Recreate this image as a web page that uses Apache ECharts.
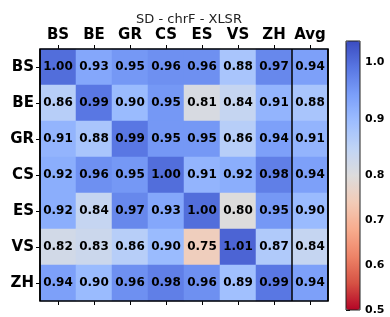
<!DOCTYPE html>
<html>
<head>
<meta charset="utf-8">
<script src="https://cdn.jsdelivr.net/npm/echarts@6/dist/echarts.min.js"></script>
<style>
  html, body { margin: 0; padding: 0; background: #fff; }
  #main { width: 390px; height: 317px; }
</style>
</head>
<body>
<div id="main"></div>
<script>
// 列 / 行
const cols = ['BS', 'BE', 'GR', 'CS', 'ES', 'VS', 'ZH', 'Avg'];
const rows = ['BS', 'BE', 'GR', 'CS', 'ES', 'VS', 'ZH'];

// 每行的分数
const rowBS = [1.00, 0.93, 0.95, 0.96, 0.96, 0.88, 0.97, 0.94];
const rowBE = [0.86, 0.99, 0.90, 0.95, 0.81, 0.84, 0.91, 0.88];
const rowGR = [0.91, 0.88, 0.99, 0.95, 0.95, 0.86, 0.94, 0.91];
const rowCS = [0.92, 0.96, 0.95, 1.00, 0.91, 0.92, 0.98, 0.94];
const rowES = [0.92, 0.84, 0.97, 0.93, 1.00, 0.80, 0.95, 0.90];
const rowVS = [0.82, 0.83, 0.86, 0.90, 0.75, 1.01, 0.87, 0.84];
const rowZH = [0.94, 0.90, 0.96, 0.98, 0.96, 0.89, 0.99, 0.94];

// colorbar: 两段线性 (中心 0.8)
const cbMin = 0.5;
const cbCenter = 0.8;
const cbMax = 1.037;
const cbTicks = [0.5, 0.6, 0.7, 0.8, 0.9, 1.0];

// coolwarm 反转 (低=红, 高=蓝)
const coolwarmR = ['#b40426', '#d65244', '#ee8468', '#f7ac8e', '#f2cbb7', '#dddcdc',
                   '#c0d4f5', '#9ebeff', '#7b9ff9', '#5977e3', '#3b4cc0'];

// 值 -> 0..1
const norm = (v) => v < cbCenter
    ? 0.5 * (v - cbMin) / (cbCenter - cbMin)
    : 0.5 + 0.5 * (v - cbCenter) / (cbMax - cbCenter);

const allRows = [rowBS, rowBE, rowGR, rowCS, rowES, rowVS, rowZH];
const heatData = [];
allRows.forEach((r, y) => {
    r.forEach((v, x) => heatData.push([x, y, v, norm(v)]));
});

const font = 'DejaVu Sans';
const cbTickPos = cbTicks.map(norm);

const option = {
    animation: false,
    textStyle: { fontFamily: font },
    title: {
        text: 'SD - chrF - XLSR',
        left: 184, top: 8, textAlign: 'center',
        textStyle: { fontFamily: font, fontSize: 13, fontWeight: 'normal', color: '#222' }
    },
    grid: [
        { left: 40, top: 49, width: 288, height: 252, show: true, borderColor: '#000', borderWidth: 1.5, backgroundColor: 'transparent', z: 10 },
        { left: 346, top: 41, width: 14, height: 269, show: true, borderColor: '#222', borderWidth: 1, backgroundColor: 'transparent', z: 10 }
    ],
    xAxis: [
        {
            type: 'category', data: cols, position: 'top', gridIndex: 0,
            axisLine: { show: false },
            axisTick: { show: true, alignWithLabel: true, length: 4, lineStyle: { color: '#000' } },
            axisLabel: { interval: 0, fontFamily: font, fontSize: 15, fontWeight: 'bold', color: '#000', margin: 6 },
            splitLine: { show: false }
        },
        {
            type: 'category', data: cols, position: 'bottom', gridIndex: 0,
            axisLine: { show: false },
            axisTick: { show: true, alignWithLabel: true, length: 4, lineStyle: { color: '#000' } },
            axisLabel: { show: false }
        },
        {
            // 竖线: ZH 与 Avg 之间
            type: 'value', gridIndex: 0, min: 0, max: cols.length, interval: cols.length - 1,
            axisLine: { show: false }, axisTick: { show: false }, axisLabel: { show: false },
            splitLine: { show: true, lineStyle: { color: '#000', width: 1.5 } },
            z: 10
        },
        {
            type: 'value', gridIndex: 1, show: false
        }
    ],
    yAxis: [
        {
            type: 'category', data: rows, inverse: true, gridIndex: 0,
            axisLine: { show: false },
            axisTick: { show: true, alignWithLabel: true, length: 4, lineStyle: { color: '#000' } },
            axisLabel: { interval: 0, fontFamily: font, fontSize: 15, fontWeight: 'bold', color: '#000', margin: 6 }
        },
        {
            type: 'value', gridIndex: 1, position: 'right', min: 0, max: 1,
            axisLine: { show: false },
            splitLine: { show: false },
            axisTick: { show: true, length: 4, customValues: cbTickPos, lineStyle: { color: '#000' } },
            axisLabel: {
                fontFamily: font, fontSize: 11, fontWeight: 'bold', color: '#000', margin: 5,
                customValues: cbTickPos,
                formatter: (v) => {
                    const i = cbTickPos.findIndex((p) => Math.abs(p - v) < 1e-6);
                    return i >= 0 ? cbTicks[i].toFixed(1) : '';
                }
            }
        }
    ],
    visualMap: {
        type: 'continuous',
        min: 0, max: 1,
        dimension: 3,
        seriesIndex: 0,
        show: true,
        calculable: false,
        orient: 'vertical',
        left: 346, top: 41,
        itemWidth: 14, itemHeight: 269,
        padding: 0,
        text: null,
        inRange: { color: coolwarmR }
    },
    series: [
        {
            type: 'heatmap',
            xAxisIndex: 0, yAxisIndex: 0,
            data: heatData,
            label: {
                show: true,
                fontFamily: font, fontSize: 12, fontWeight: 'bold', color: '#000',
                formatter: (p) => p.value[2].toFixed(2)
            },
            itemStyle: { borderWidth: 0 }
        }
    ]
};

const chart = echarts.init(document.getElementById('main'));
chart.setOption(option);
</script>
</body>
</html>
